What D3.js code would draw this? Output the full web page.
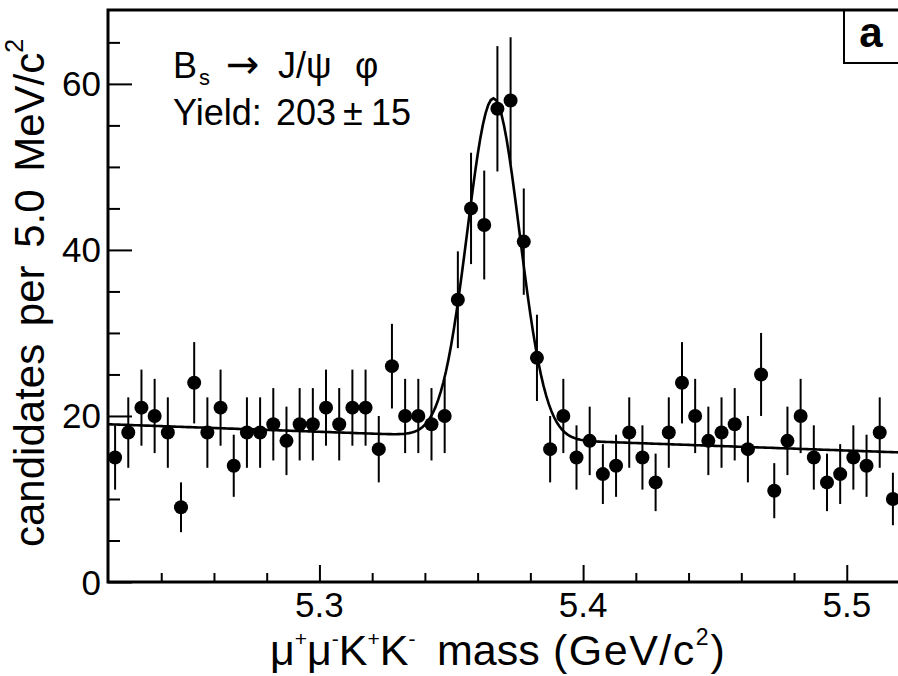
<!DOCTYPE html>
<html>
<head>
<meta charset="utf-8">
<script src="https://cdn.jsdelivr.net/npm/d3@7"></script>
<style>
  html, body { margin: 0; padding: 0; background: #fff; }
  svg { display: block; font-family: "Liberation Sans", Arial, Helvetica, sans-serif; }
  text { white-space: pre; }
</style>
</head>
<body>
<svg id="chart" width="898" height="676"></svg>
<script>
// ---- data ----
// 5 MeV bins from 5.22 to 5.52 GeV/c^2
const binStart = 5.22;
const binWidth = 0.005;
const counts = [
  15, 18, 21, 20, 18, 9, 24, 18, 21, 14,
  18, 18, 19, 17, 19, 19, 21, 19, 21, 21,
  16, 26, 20, 20, 19, 20, 34, 45, 43, 57,
  58, 41, 27, 16, 20, 15, 17, 13, 14, 18,
  15, 12, 18, 24, 20, 17, 18, 19, 16, 25,
  11, 17, 20, 15, 12, 13, 15, 14, 18, 10
];
const xTickValues = [5.3, 5.4, 5.5];
const xTickLabels = ["5.3", "5.4", "5.5"];
const yTickValues = [0, 20, 40, 60];
const yTickLabels = ["0", "20", "40", "60"];

// fit parameters: Gaussian signal + linear background
const fitYield = 203;
const fitMean = 5.366;
const fitSigma = 0.0099;
const bkgAt522 = 19.0;
const bkgSlope = -11.3; // per GeV/c^2

// ---- chart ----
const svg = d3.select("#chart");
const pLeft = 108, pRight = 899.5, pTop = 10, pBottom = 582;

const x = d3.scaleLinear().domain([5.22, 5.52]).range([pLeft + 0.5, pRight]);
const y = d3.scaleLinear().domain([0, 68.9]).range([pBottom, pTop]);

const data = counts.map((c, i) => ({
  m: binStart + binWidth * (i + 0.5),
  n: c,
  e: Math.sqrt(c)
}));

svg.append("defs").append("clipPath").attr("id", "clip")
  .append("rect").attr("x", pLeft).attr("y", pTop).attr("width", 898 - pLeft).attr("height", pBottom - pTop);

const plot = svg.append("g").attr("clip-path", "url(#clip)");

// fit curve
const fitFn = m => bkgAt522 + bkgSlope * (m - 5.22) +
  fitYield * binWidth / (fitSigma * Math.sqrt(2 * Math.PI)) *
  Math.exp(-0.5 * Math.pow((m - fitMean) / fitSigma, 2));
const fitPts = d3.range(0, 301).map(i => 5.22 + i * 0.001);
plot.append("path")
  .datum(fitPts)
  .attr("fill", "none")
  .attr("stroke", "#000")
  .attr("stroke-width", 2.6)
  .attr("d", d3.line().x(m => x(m)).y(m => y(fitFn(m))));

// error bars
plot.selectAll("line.err").data(data).join("line")
  .attr("class", "err")
  .attr("x1", d => x(d.m)).attr("x2", d => x(d.m))
  .attr("y1", d => y(d.n - d.e)).attr("y2", d => y(d.n + d.e))
  .attr("stroke", "#000").attr("stroke-width", 2);

// markers
plot.selectAll("circle").data(data).join("circle")
  .attr("cx", d => x(d.m)).attr("cy", d => y(d.n))
  .attr("r", 7).attr("fill", "#000");

// ---- axes ----
const xMinorVals = d3.range(5.24, 5.52, 0.02).filter(v => !xTickValues.some(t => Math.abs(t - v) < 1e-6));
const yMinorVals = d3.range(5, 69, 5).filter(v => v % 20 !== 0);
const xAxisMajor = d3.axisTop(x).tickValues(xTickValues).tickSize(17).tickFormat("");
const xAxisMinor = d3.axisTop(x).tickValues(xMinorVals).tickSize(9).tickFormat("");
const yAxisMajor = d3.axisRight(y).tickValues(yTickValues).tickSize(24).tickFormat("");
const yAxisMinor = d3.axisRight(y).tickValues(yMinorVals).tickSize(12).tickFormat("");

function styleAxis(g) {
  g.select(".domain").remove();
  g.selectAll(".tick line").attr("stroke", "#000").attr("stroke-width", 2);
}
svg.append("g").attr("transform", `translate(0,${pBottom})`).call(xAxisMajor).call(styleAxis);
svg.append("g").attr("transform", `translate(0,${pBottom})`).call(xAxisMinor).call(styleAxis);
svg.append("g").attr("transform", `translate(${pLeft},0)`).call(yAxisMajor).call(styleAxis);
svg.append("g").attr("transform", `translate(${pLeft},0)`).call(yAxisMinor).call(styleAxis);

// frame lines: top, left, bottom
svg.append("path")
  .attr("d", `M898,${pTop} L${pLeft},${pTop} L${pLeft},${pBottom} L898,${pBottom}`)
  .attr("fill", "none").attr("stroke", "#000").attr("stroke-width", 3);

// tick labels
svg.append("g").selectAll("text").data(xTickValues).join("text")
  .attr("x", d => x(d)).attr("y", 617)
  .attr("text-anchor", "middle").attr("font-size", 35)
  .text((d, i) => xTickLabels[i]);
svg.append("g").selectAll("text").data(yTickValues).join("text")
  .attr("x", 101).attr("y", d => y(d) + 12.5)
  .attr("text-anchor", "end").attr("font-size", 35)
  .text((d, i) => yTickLabels[i]);

// x title
const xt = svg.append("text").attr("y", 665).attr("font-size", 43);
const supDy = -19, supFs = 21;
xt.append("tspan").attr("x", 270).text("μ");
xt.append("tspan").attr("font-size", supFs).attr("dy", supDy).text("+");
xt.append("tspan").attr("dy", -supDy).text("μ");
xt.append("tspan").attr("font-size", supFs).attr("dy", supDy).text("-");
xt.append("tspan").attr("dy", -supDy).text("K");
xt.append("tspan").attr("font-size", supFs).attr("dy", supDy).text("+");
xt.append("tspan").attr("dy", -supDy).text("K");
xt.append("tspan").attr("font-size", supFs).attr("dy", supDy).text("-");
xt.append("tspan").attr("dy", -supDy).attr("x", 437).text("mass");
xt.append("tspan").attr("x", 553).attr("letter-spacing", 1.5).text("(GeV/c");
xt.append("tspan").attr("font-size", supFs + 2).attr("dy", supDy - 1).text("2");
xt.append("tspan").attr("dy", -supDy + 1).attr("dx", 2).text(")");

// y title
const yt = svg.append("text")
  .attr("transform", "translate(44,547) rotate(-90)")
  .attr("font-size", 42).attr("word-spacing", 6);
yt.append("tspan").attr("x", 0).text("candidates per 5.0 MeV/c");
yt.append("tspan").attr("font-size", 25).attr("dy", -21).text("2");

// annotation
const t1 = svg.append("text").attr("y", 78).attr("font-size", 36);
t1.append("tspan").attr("x", 173).text("B");
t1.append("tspan").attr("font-size", 22).attr("dy", 7).attr("x", 199).text("s");
t1.append("tspan").attr("dy", -7).attr("x", 226)
  .attr("font-family", "DejaVu Sans").attr("font-size", 40).text("→");
t1.append("tspan").attr("x", 278).text("J/ψ");
t1.append("tspan").attr("x", 355).text("φ");

const t2 = svg.append("text").attr("y", 125).attr("font-size", 36);
t2.append("tspan").attr("x", 173).text("Yield:");
t2.append("tspan").attr("x", 276).text("203");
t2.append("tspan").attr("x", 343).text("±");
t2.append("tspan").attr("x", 371).text("15");

// panel label box
svg.append("path")
  .attr("d", `M844,${pTop} L844,63 L898,63`)
  .attr("fill", "none").attr("stroke", "#000").attr("stroke-width", 2);
svg.append("text").attr("x", 871).attr("y", 47).attr("text-anchor", "middle")
  .attr("font-size", 42).attr("font-weight", "bold").text("a");
</script>
</body>
</html>
